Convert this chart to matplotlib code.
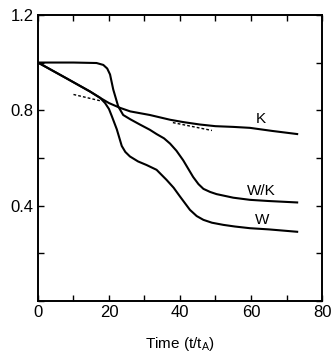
import matplotlib
matplotlib.use("Agg")
import matplotlib.pyplot as plt
from matplotlib.ticker import MultipleLocator

plt.rcParams['font.family'] = ['Liberation Sans', 'DejaVu Sans']

# curves
k_x = [0, 8, 14.6, 17.5, 20, 23.1, 26, 31.5, 37.2, 41, 45.6, 50, 55, 59.7, 66, 73]
k_y = [1.0, 0.934, 0.879, 0.852, 0.83, 0.81, 0.795, 0.78, 0.76, 0.75, 0.74, 0.733,
       0.73, 0.726, 0.713, 0.70]

wk_x = [0, 10, 16.5, 18.4, 19.5, 20.3, 21.2, 22.6, 24, 26, 28.7, 31.5, 33.4, 35.5,
        37.2, 39, 40.9, 42.3, 43.7, 45.2, 46.6, 48.5, 50.3, 55, 59.7, 65, 73]
wk_y = [1.0, 1.0, 0.998, 0.99, 0.975, 0.95, 0.887, 0.816, 0.78, 0.762, 0.74, 0.718,
        0.70, 0.682, 0.66, 0.63, 0.59, 0.555, 0.52, 0.49, 0.47, 0.457, 0.448, 0.433,
        0.424, 0.419, 0.413]

w_x = [0, 8, 14.6, 17.5, 18.9, 20.0, 20.8, 22.2, 23.6, 24.6, 25.9, 28.2, 30.6, 33.4,
       36.2, 38.2, 40, 41.5, 42.8, 44.7, 46.6, 49, 52.2, 55.5, 59.7, 65, 73]
w_y = [1.0, 0.934, 0.879, 0.852, 0.83, 0.805, 0.775, 0.72, 0.65, 0.625, 0.606, 0.585,
       0.57, 0.55, 0.508, 0.475, 0.438, 0.408, 0.382, 0.356, 0.34, 0.328, 0.319, 0.312,
       0.305, 0.30, 0.29]

dash1_x = [10, 18]
dash1_y = [0.866, 0.838]
dash2_x = [38, 49]
dash2_y = [0.748, 0.715]

labels = ["K", "W/K", "W"]
label_x = [62.8, 62.8, 63]
label_y = [0.765, 0.462, 0.34]

fig = plt.figure(figsize=(3.33, 3.54), dpi=100)
ax = fig.add_axes([0.114, 0.150, 0.853, 0.808])

ax.plot(k_x, k_y, color='black', lw=1.5)
ax.plot(wk_x, wk_y, color='black', lw=1.5)
ax.plot(w_x, w_y, color='black', lw=1.5)
ax.plot(dash1_x, dash1_y, color='black', lw=1.0, ls=(0, (2, 1.5)))
ax.plot(dash2_x, dash2_y, color='black', lw=1.0, ls=(0, (2, 1.5)))

for t, x, y in zip(labels, label_x, label_y):
    ax.text(x, y, t, fontsize=11, ha='center', va='center')

ax.set_xlim(0, 80)
ax.set_ylim(0, 1.2)
ax.set_xticks([0, 20, 40, 60, 80])
ax.set_yticks([0.4, 0.8, 1.2])
ax.set_yticklabels(["0.4", "0.8", "1.2"])
ax.xaxis.set_minor_locator(MultipleLocator(10))
ax.yaxis.set_minor_locator(MultipleLocator(0.2))
ax.tick_params(which='both', direction='in', top=True, right=True, labelsize=12,
               width=1.0, color='black', pad=3)
ax.tick_params(which='major', length=4)
ax.tick_params(which='minor', length=4)
for s in ax.spines.values():
    s.set_linewidth(1.4)

ax.set_xlabel("Time (t/t$_\\mathregular{A}$)", fontsize=11, labelpad=11)

fig.savefig("out.png", dpi=100)
